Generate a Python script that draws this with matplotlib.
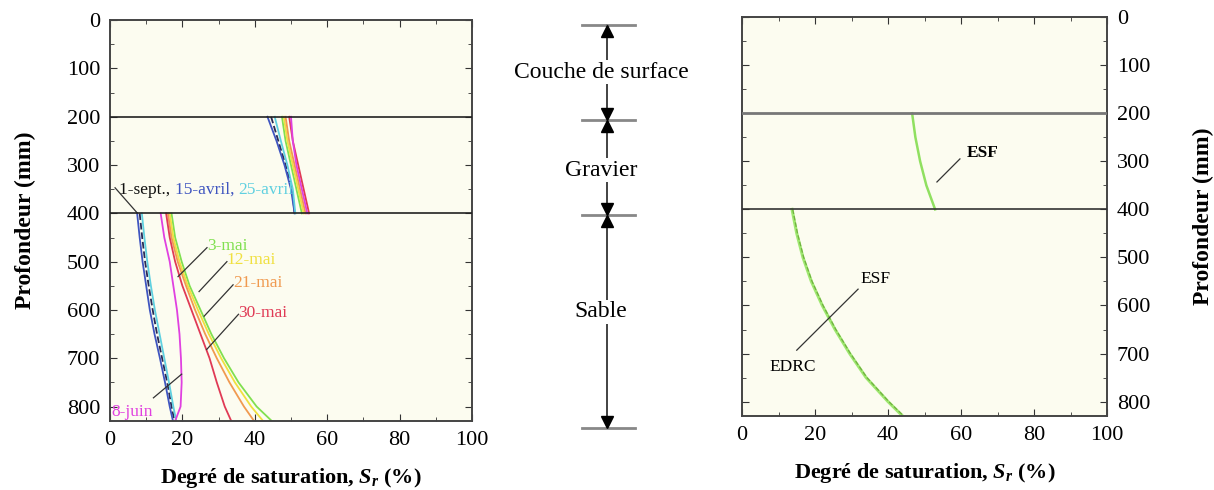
import numpy as np
import matplotlib
matplotlib.use("Agg")
import matplotlib.pyplot as plt
from matplotlib.ticker import MultipleLocator

plt.rcParams["font.family"] = ["Liberation Serif", "DejaVu Serif"]
plt.rcParams["mathtext.fontset"] = "custom"
plt.rcParams["mathtext.it"] = "Liberation Serif:bold:italic"
plt.rcParams["mathtext.rm"] = "Liberation Serif:bold"

# ---- data ----
depth_gravel = [200, 250, 300, 350, 400]
depth_sand = [400, 450, 500, 550, 600, 650, 700, 750, 800, 830]

dates = ["1-sept.", "15-avril", "25-avril", "3-mai", "12-mai", "21-mai", "30-mai", "8-juin"]
colors = ["#2a2a55", "#3f55c0", "#5fd0e0", "#80e050", "#f0e040", "#f09a50", "#e03a55", "#e040e0"]
styles = ["--", "-", "-", "-", "-", "-", "-", "-"]

sr_gravel = [
    [44.5, 46.5, 48.5, 50.3, 51.0],
    [43.5, 46.0, 48.2, 50.0, 51.0],
    [45.5, 47.2, 49.0, 50.5, 51.2],
    [47.5, 48.5, 50.0, 51.5, 53.0],
    [48.0, 49.0, 50.5, 52.0, 53.5],
    [48.5, 49.5, 51.0, 52.5, 54.0],
    [49.5, 50.5, 52.0, 53.5, 55.0],
    [50.0, 50.5, 51.5, 53.0, 54.5],
]
sr_sand = [
    [8.2, 8.9, 9.7, 10.7, 11.8, 13.0, 14.4, 15.8, 17.0, 17.8],
    [7.5, 8.2, 9.0, 10.0, 11.0, 12.3, 13.8, 15.2, 16.5, 17.4],
    [8.8, 9.5, 10.3, 11.3, 12.4, 13.7, 15.0, 16.3, 17.5, 18.3],
    [17.0, 18.0, 19.8, 22.0, 25.0, 28.0, 31.5, 35.5, 40.5, 44.7],
    [16.5, 17.5, 19.2, 21.5, 24.3, 27.3, 30.7, 34.5, 39.0, 42.3],
    [16.0, 17.0, 18.7, 21.0, 23.5, 26.3, 29.5, 33.0, 37.0, 39.8],
    [15.5, 16.5, 18.0, 20.0, 22.5, 25.0, 27.5, 29.5, 31.7, 33.5],
    [14.0, 15.0, 16.5, 17.5, 18.5, 19.2, 19.6, 19.8, 19.5, 18.0],
]

esf_gravel = [46.6, 47.5, 48.8, 50.5, 52.9]
esf_sand = [13.7, 15.0, 16.7, 19.0, 22.0, 25.5, 29.5, 34.0, 40.0, 44.0]
edrc_sand = [13.9, 15.2, 16.9, 19.2, 22.2, 25.7, 29.7, 34.2, 40.2, 44.3]

layers = [0, 200, 400, 850]
layer_names = ["Couche de surface", "Gravier", "Sable"]
layer_text_y = [100, 306, 605]

FACE = "#fcfcf0"
XLABEL = "Degré de saturation, $S_r$ (%)"
LAB = 12.5


def _style(ax, right=False):
    ax.set_xlim(0, 100)
    ax.set_ylim(830, 0)
    ax.set_facecolor(FACE)
    ax.xaxis.set_major_locator(MultipleLocator(20))
    ax.xaxis.set_minor_locator(MultipleLocator(10))
    ax.yaxis.set_major_locator(MultipleLocator(100))
    ax.yaxis.set_minor_locator(MultipleLocator(50))
    ax.tick_params(which="both", direction="in", top=True, right=True, left=True,
                   labelsize=16, pad=7, color="#333")
    ax.tick_params(which="major", length=5)
    ax.tick_params(which="minor", length=3)
    if right:
        ax.yaxis.tick_right()
        ax.yaxis.set_label_position("right")
        ax.tick_params(which="both", left=True)
    for s in ax.spines.values():
        s.set_color("#444"); s.set_linewidth(1.4)
    ax.set_xlabel(XLABEL, fontsize=16, fontweight="bold", labelpad=12)
    ax.set_ylabel("Profondeur (mm)", fontsize=17, fontweight="bold",
                  labelpad=31 if right else 22)


fig = plt.figure(figsize=(12.14, 4.9), dpi=100)
ax1 = fig.add_axes([0.0906, 0.1408, 0.2982, 0.818])
ax2 = fig.add_axes([0.450, 0.1408, 0.100, 0.818])
ax3 = fig.add_axes([0.6112, 0.151, 0.3007, 0.814])

# ---- left: measured profiles ----
_style(ax1)
ax1.axhline(200, color="#222", lw=1.2, zorder=3)
ax1.axhline(400, color="#222", lw=1.2, zorder=3)
for g, s, c, ls in zip(sr_gravel, sr_sand, colors, styles):
    ax1.plot(g, depth_gravel, color=c, ls=ls, lw=1.3)
    ax1.plot(s, depth_sand, color=c, ls=ls, lw=1.3)

lk = dict(color="#333", lw=0.9)
ax1.plot([1.4, 7.5], [347, 399], **lk)
prev = ax1.text(2.5, 351, "1-sept., ", color="#111", fontsize=LAB, va="center", ha="left")
for txt, c in [("15-avril, ", colors[1]), ("25-avril", colors[2])]:
    prev = ax1.annotate(txt, xy=(1, 0), xycoords=prev, va="bottom", ha="left",
                        color=c, fontsize=LAB)
for (x0, y0, x1, y1), name, c in zip(
        [(18.8, 531, 26.8, 471), (24.6, 562, 32.3, 500),
         (26.0, 613, 34.0, 548), (26.7, 682, 35.5, 609)],
        dates[3:7], colors[3:7]):
    ax1.plot([x0, x1], [y0, y1], **lk)
    ax1.text(x1, y1 - 3, name, color=c, fontsize=LAB, va="center", ha="left")
ax1.plot([12, 19.8], [782, 733], **lk)
ax1.text(0.5, 812, dates[7], color=colors[7], fontsize=LAB, va="center", ha="left")

# ---- middle: layer schematic ----
ax2.set_xlim(0, 1)
ax2.set_ylim(835, -10)
ax2.axis("off")
ax2.plot([0.5, 0.5], [layers[0], layers[-1]], color="#222", lw=1.2, clip_on=False)
for d in layers:
    ax2.plot([0.29, 0.73], [d, d], color="#888", lw=2, clip_on=False)
for top, bot, name, ty in zip(layers[:-1], layers[1:], layer_names, layer_text_y):
    ax2.plot(0.5, top + 13, marker="^", color="k", ms=9, clip_on=False)
    ax2.plot(0.5, bot - 13, marker="v", color="k", ms=9, clip_on=False)
    ax2.text(0.45, ty, name, fontsize=17, ha="center", va="center",
             bbox=dict(fc="white", ec="none", pad=1))

# ---- right: simulated profiles ----
_style(ax3, right=True)
ax3.axhline(200, color="#777", lw=2, zorder=3)
ax3.axhline(400, color="#333", lw=1.2, zorder=3)
ax3.plot(esf_gravel, depth_gravel, color="#90e060", lw=1.8)
ax3.plot(esf_sand, depth_sand, color="#9fe870", lw=2.2)
ax3.plot(edrc_sand, depth_sand, color="#70b040", lw=0.9, ls="--")
ax3.plot([53.4, 59.7], [343, 295], **lk)
ax3.text(61.5, 283, "ESF", fontsize=LAB, fontweight="bold", va="center", ha="left")
ax3.plot([15, 31.8], [693, 566], **lk)
ax3.text(32.5, 545, "ESF", fontsize=LAB, va="center", ha="left")
ax3.text(7.5, 728, "EDRC", fontsize=LAB, va="center", ha="left")

fig.savefig("out.png", dpi=100, facecolor="white")
